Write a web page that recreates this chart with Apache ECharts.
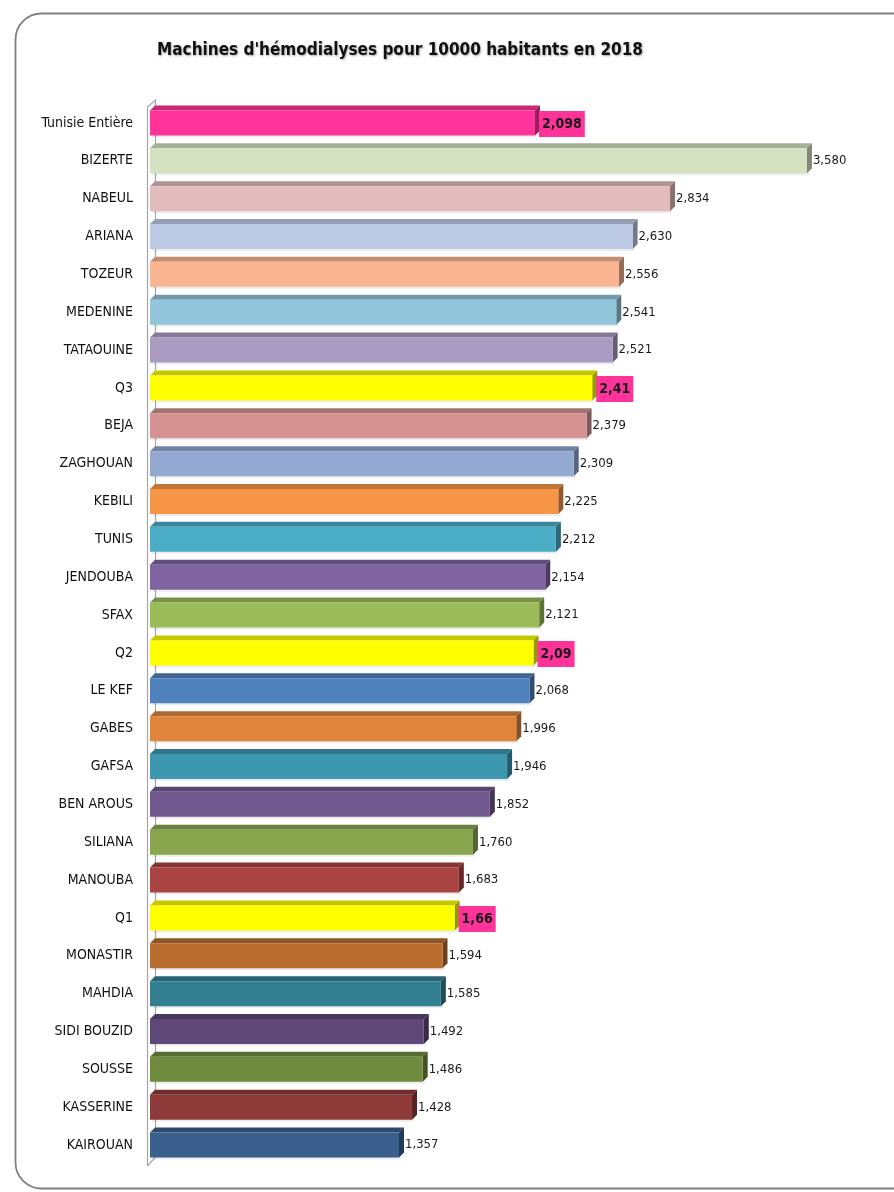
<!DOCTYPE html>
<html>
<head>
<meta charset="utf-8">
<script src="https://cdn.jsdelivr.net/npm/echarts@6/dist/echarts.min.js"></script>
<style>
html,body{margin:0;padding:0;background:#fff;}
#chart{width:894px;height:1192px;}
</style>
</head>
<body>
<div id="chart"></div>
<script>
var titleText = "Machines d'hémodialyses pour 10000 habitants en 2018";
var categories = ["Tunisie Entière","BIZERTE","NABEUL","ARIANA","TOZEUR","MEDENINE","TATAOUINE","Q3","BEJA","ZAGHOUAN","KEBILI","TUNIS","JENDOUBA","SFAX","Q2","LE KEF","GABES","GAFSA","BEN AROUS","SILIANA","MANOUBA","Q1","MONASTIR","MAHDIA","SIDI BOUZID","SOUSSE","KASSERINE","KAIROUAN"];
var values = [2.098,3.580,2.834,2.630,2.556,2.541,2.521,2.41,2.379,2.309,2.225,2.212,2.154,2.121,2.09,2.068,1.996,1.946,1.852,1.760,1.683,1.66,1.594,1.585,1.492,1.486,1.428,1.357];
var valueLabels = ["2,098","3,580","2,834","2,630","2,556","2,541","2,521","2,41","2,379","2,309","2,225","2,212","2,154","2,121","2,09","2,068","1,996","1,946","1,852","1,760","1,683","1,66","1,594","1,585","1,492","1,486","1,428","1,357"];
var highlighted = ["Tunisie Entière","Q3","Q2","Q1"];
var barColors = ["#FF3399","#D5E1C1","#E2BCBC","#BDCAE6","#FAB592","#93C6DA","#A99BC1","#FFFF00","#D49292","#93A9D1","#F79646","#4BACC6","#8064A2","#9BBB59","#FFFF00","#4F81BD","#DF853C","#3D97AE","#71588F","#89A64F","#A94442","#FFFF00","#B96D2F","#327F92","#5E4877","#708A3E","#8E3A38","#3A5F8D"];

function shade(hex, f){
  var n = parseInt(hex.slice(1),16);
  var r=(n>>16)&255,g=(n>>8)&255,b=n&255;
  r=Math.round(r*f);g=Math.round(g*f);b=Math.round(b*f);
  return 'rgb('+r+','+g+','+b+')';
}

var FONT = '"Liberation Sans Narrow","Arial Narrow","DejaVu Sans Condensed",sans-serif';
var chart = echarts.init(document.getElementById('chart'), null, {renderer:'canvas'});
var data = values.map(function(v,i){ return [v, i]; });

chart.setOption({
  animation:false,
  backgroundColor:'#ffffff',
  title:{
    text:titleText, left:395, top:37, textAlign:'center',
    textStyle:{fontFamily:FONT, fontSize:17, fontWeight:'bold', color:'#111',
      textShadowColor:'rgba(0,0,0,0.35)', textShadowBlur:2, textShadowOffsetX:1, textShadowOffsetY:1}
  },
  graphic:[
    {type:'rect', shape:{x:15.5,y:13.5,width:920,height:1175,r:26}, style:{fill:'none',stroke:'#808080',lineWidth:1.8}, z:0},
    {type:'polyline', shape:{points:[[147.5,1166],[147.5,107],[155.5,100],[155.5,1157],[147.5,1166]]}, style:{fill:'none',stroke:'#a6a6a6',lineWidth:1.2}, z:1}
  ],
  grid:{left:150, top:104, width:734, height:1060},
  xAxis:{type:'value', min:0, max:4, show:false},
  yAxis:{type:'category', data:categories, inverse:true,
    axisLine:{show:false}, axisTick:{show:false}, splitLine:{show:false},
    axisLabel:{margin:17, fontFamily:FONT, fontSize:14, color:'#111'}},
  series:[{
    type:'custom',
    data:data,
    encode:{x:0,y:1},
    renderItem:function(params, api){
      var v = api.value(0), idx = api.value(1);
      var p0 = api.coord([0, idx]);
      var p1 = api.coord([v, idx]);
      var band = api.size([0,1])[1];
      var h = band*0.66;
      var d = 5;
      var x0 = p0[0], x1 = p1[0];
      var yTop = p0[1]-h/2, yBot = p0[1]+h/2;
      var col = barColors[idx];
      var hl = highlighted.indexOf(categories[idx]) >= 0;
      var children = [
        {type:'rect', shape:{x:x0+2, y:yBot-2, width:x1-x0, height:4}, style:{fill:'rgba(0,0,0,0.07)'}},
        {type:'polygon', shape:{points:[[x0,yTop],[x0+d,yTop-d],[x1+d,yTop-d],[x1,yTop]]}, style:{fill:shade(col,0.78)}},
        {type:'polygon', shape:{points:[[x1,yTop],[x1+d,yTop-d],[x1+d,yBot-d],[x1,yBot]]}, style:{fill:shade(col,0.6)}},
        {type:'rect', shape:{x:x0, y:yTop, width:x1-x0, height:yBot-yTop}, style:{fill:col}}
      ];
      if(hl){
        children.push({type:'text', style:{text:valueLabels[idx], x:x1+d-1, y:p0[1]+1, verticalAlign:'middle', align:'left',
          font:'bold 14px '+FONT, fill:'#1a1a1a', backgroundColor:'#FF3399', padding:[6,3,6,3]}});
      } else {
        children.push({type:'text', style:{text:valueLabels[idx], x:x1+d+1, y:p0[1], verticalAlign:'middle', align:'left',
          font:'13px '+FONT, fill:'#1a1a1a'}});
      }
      return {type:'group', children:children};
    }
  }]
});
</script>
</body>
</html>
